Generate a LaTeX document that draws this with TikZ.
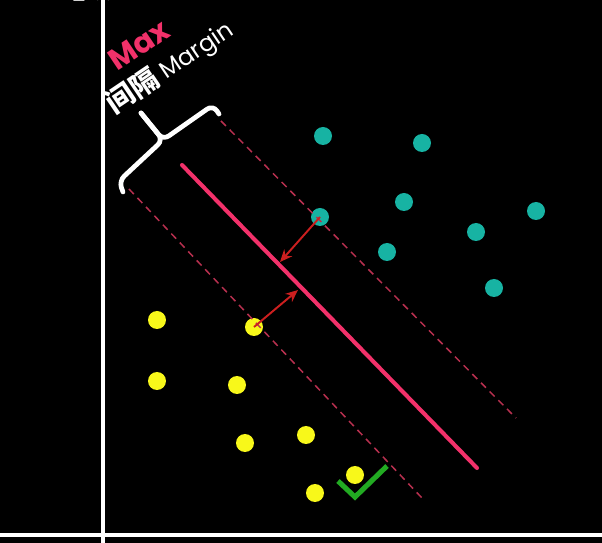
\documentclass[tikz,border=0pt]{standalone}
\usepackage{fontspec}
\setmainfont{Poppins}
\newfontfamily\cjk{Noto Sans CJK SC}
\usetikzlibrary{arrows.meta}

\definecolor{rosa}{HTML}{F2316A}
\definecolor{rosaescuro}{HTML}{B8304F}
\definecolor{verdeagua}{HTML}{17B3A3}
\definecolor{amarelo}{HTML}{F8F81A}
\definecolor{vermelho}{HTML}{CC1F1F}
\definecolor{verde}{HTML}{22AA22}

\begin{document}
\begin{tikzpicture}[
  x=0.02cm, y=-0.02cm,
  ponto/.style  = {circle, inner sep=0pt, minimum size=0.36cm},
  classeA/.style = {ponto, fill=verdeagua},
  classeB/.style = {ponto, fill=amarelo},
  eixo/.style   = {white, line width=2.3pt},
  margem/.style = {rosaescuro, line width=0.85pt, dash pattern=on 4pt off 3pt},
  dist/.style   = {vermelho, line width=1.1pt},
  chave/.style  = {white, line width=2.7pt, rounded corners=4pt, line cap=round},
  >={Stealth[length=7pt, width=6pt]}
]
  % Fundo e recorte
  \clip (0,0) rectangle (602,543);
  \fill[black] (0,0) rectangle (602,543);

  % Eixos
  \coordinate (O1) at (0,535);
  \coordinate (O2) at (602,535);
  \coordinate (V1) at (103,543);
  \coordinate (V2) at (103,-12);
  \draw[eixo] (O1) -- (O2);
  \draw[eixo, ->] (V1) -- (V2);
  \node[white, font=\fontsize{13}{13}\selectfont] (lbl) at (79,-7) {2};

  % Pontos da classe A
  \node[classeA] (a1) at (323,136) {};
  \node[classeA] (a2) at (422,143) {};
  \node[classeA] (a3) at (404,202) {};
  \node[classeA] (a4) at (320,217) {};
  \node[classeA] (a5) at (536,211) {};
  \node[classeA] (a6) at (476,232) {};
  \node[classeA] (a7) at (387,252) {};
  \node[classeA] (a8) at (494,288) {};

  % Pontos da classe B
  \node[classeB] (b1) at (157,320) {};
  \node[classeB] (b2) at (254,327) {};
  \node[classeB] (b3) at (157,381) {};
  \node[classeB] (b4) at (237,385) {};
  \node[classeB] (b5) at (245,443) {};
  \node[classeB] (b6) at (306,435) {};
  \node[classeB] (b7) at (355,475) {};
  \node[classeB] (b8) at (315,493) {};

  % Hiperplano e margens
  \coordinate (h1) at (182,165);
  \coordinate (h2) at (477,468);
  \coordinate (s1) at (221,121);
  \coordinate (s2) at (516,418);
  \coordinate (i1) at (129,189);
  \coordinate (i2) at (422,498);
  \draw[margem] (s1) -- (s2);
  \draw[margem] (i1) -- (i2);
  \draw[rosa, line width=2.3pt, line cap=round] (h1) -- (h2);

  % Distancias
  \coordinate (pa) at (280,262);
  \coordinate (pb) at (298,290);
  \draw[dist, ->] (a4.center) -- (pa);
  \draw[dist, ->] (b2.center) -- (pb);

  % Chave
  \coordinate (c1) at (123,192);
  \coordinate (c2) at (119,181);
  \coordinate (cm) at (163,140);
  \coordinate (ct) at (141,113);
  \coordinate (c3) at (213,105);
  \coordinate (c4) at (219,114);
  \draw[chave] (c1) -- (c2) -- (cm) -- (ct);
  \draw[chave] (c4) -- (c3) -- (cm) -- (ct);

  % Textos
  \node[rosa, rotate=34, font=\fontsize{17}{17}\selectfont\bfseries] (max) at (139,45) {Max};
  \node[white, rotate=34, font=\fontsize{13.5}{13.5}\selectfont] (mrg) at (170,67)
       {{\cjk\bfseries\fontsize{16}{16}\selectfont 间隔}\ Margin};

  % Certo
  \coordinate (k1) at (338,481);
  \coordinate (k2) at (355,497);
  \coordinate (k3) at (387,466);
  \draw[verde, line width=2.9pt] (k1) -- (k2) -- (k3);
\end{tikzpicture}
\end{document}
